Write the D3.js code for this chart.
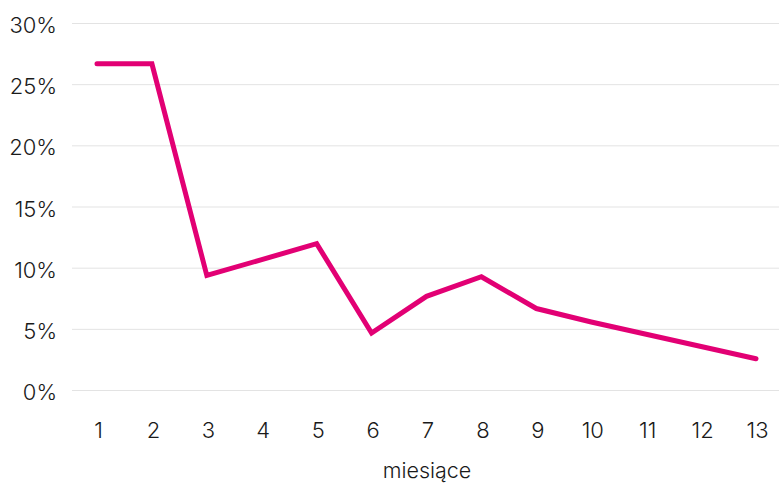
<!DOCTYPE html>
<html>
<head>
<meta charset="utf-8">
<script src="https://cdn.jsdelivr.net/npm/d3@7"></script>
<style>
  html, body { margin: 0; padding: 0; background: #fff; }
  svg { display: block; }
  text { font-family: Inter, "Noto Sans", sans-serif; font-weight: 300; fill: #1a1a1a; }
</style>
</head>
<body>
<svg id="chart" width="779" height="483"></svg>
<script>
// Share per month (percent)
const months = ["1","2","3","4","5","6","7","8","9","10","11","12","13"];
const shares = [26.7, 26.7, 9.4, 10.7, 12.0, 4.7, 7.7, 9.3, 6.7, 5.6, 4.6, 3.6, 2.6];
const yTicks = [0, 5, 10, 15, 20, 25, 30];
const xTitle = "miesiące";

const svg = d3.select("#chart");

const x = d3.scalePoint().domain(months).range([97, 756]);
const y = d3.scaleLinear().domain([0, 30]).range([390.5, 23.5]);

// horizontal gridlines
svg.append("g")
  .selectAll("line")
  .data(yTicks)
  .join("line")
  .attr("x1", 72).attr("x2", 779)
  .attr("y1", d => y(d)).attr("y2", d => y(d))
  .attr("stroke", "#e3e3e3")
  .attr("stroke-width", 1);

// y axis labels
const yAxis = d3.axisLeft(y).tickValues(yTicks).tickFormat(d => d + "%").tickSize(0).tickPadding(0);
svg.append("g")
  .attr("transform", "translate(57,2)")
  .call(yAxis)
  .call(g => g.select(".domain").remove())
  .call(g => g.selectAll("text")
    .attr("font-size", 22)
    .attr("font-family", "Inter, 'Noto Sans', sans-serif")
    .attr("fill", "#1a1a1a"));

// x axis labels
const xAxis = d3.axisBottom(x).tickSize(0).tickPadding(0);
svg.append("g")
  .attr("transform", "translate(1,420)")
  .call(xAxis)
  .call(g => g.select(".domain").remove())
  .call(g => g.selectAll("text")
    .attr("font-size", 22)
    .attr("dy", "0")
    .attr("y", 18)
    .attr("font-family", "Inter, 'Noto Sans', sans-serif")
    .attr("fill", "#1a1a1a"));

// axis title
svg.append("text")
  .attr("x", 427)
  .attr("y", 478)
  .attr("text-anchor", "middle")
  .attr("font-size", 21.5)
  .text(xTitle);

// series line
const line = d3.line()
  .x((d, i) => x(months[i]))
  .y(d => y(d));

svg.append("path")
  .datum(shares)
  .attr("d", line)
  .attr("fill", "none")
  .attr("stroke", "#e20074")
  .attr("stroke-width", 5)
  .attr("stroke-linecap", "round")
  .attr("stroke-linejoin", "miter");
</script>
</body>
</html>
